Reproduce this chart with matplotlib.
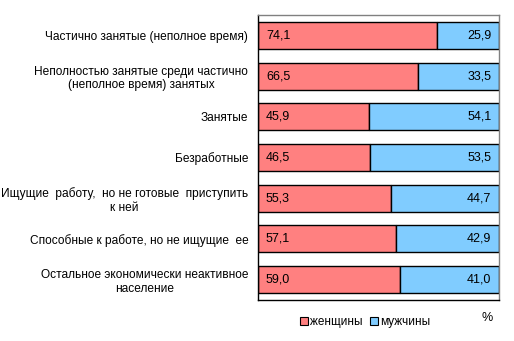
import matplotlib
matplotlib.use("Agg")
import matplotlib.pyplot as plt
from matplotlib.patches import Patch

plt.rcParams['font.family'] = ['Liberation Sans', 'DejaVu Sans']

categories = [
    "Частично занятые (неполное время)",
    "Неполностью занятые среди частично\n(неполное время) занятых",
    "Занятые",
    "Безработные",
    "Ищущие  работу,  но не готовые  приступить\nк ней",
    "Способные к работе, но не ищущие  ее",
    "Остальное экономически неактивное\nнаселение",
]
women = [74.1, 66.5, 45.9, 46.5, 55.3, 57.1, 59.0]
men = [25.9, 33.5, 54.1, 53.5, 44.7, 42.9, 41.0]
series_names = ["женщины", "мужчины"]

c_women = "#FF8080"
c_men = "#80CCFF"

fig = plt.figure(figsize=(5.14, 3.41), dpi=100)
ax = fig.add_axes([258 / 514, 1 - 300 / 341, (499 - 258) / 514, (300 - 15) / 341])

y = list(range(len(categories)))
h = 0.66
ax.barh(y, women, height=h, color=c_women, edgecolor="black", linewidth=1.0)
ax.barh(y, men, left=women, height=h, color=c_men, edgecolor="black", linewidth=1.0)

for yi, w, m in zip(y, women, men):
    ax.text(3.3, yi, f"{w:.1f}".replace(".", ","), va="center", ha="left", fontsize=9)
    ax.text(96.8, yi, f"{m:.1f}".replace(".", ","), va="center", ha="right", fontsize=9)

ax.set_xlim(0, 100)
ax.set_ylim(len(categories) - 0.5, -0.5)
ax.set_yticks(y)
ax.set_yticklabels(categories, fontsize=8.6, multialignment="center")
ax.tick_params(axis="y", length=0, pad=7)
ax.tick_params(axis="x", bottom=False, labelbottom=False)

for s in ["left", "bottom"]:
    ax.spines[s].set_color("black")
    ax.spines[s].set_linewidth(1.0)
for s in ["top", "right"]:
    ax.spines[s].set_color("#808080")
    ax.spines[s].set_linewidth(1.0)

handles = [Patch(facecolor=c_women, edgecolor="black", linewidth=0.8),
           Patch(facecolor=c_men, edgecolor="black", linewidth=0.8)]
fig.legend(handles, series_names, loc="center", bbox_to_anchor=(365 / 514, 1 - 322 / 341),
           ncol=2, frameon=False, fontsize=8.5, handlelength=0.7, handleheight=0.7,
           handletextpad=0.2, columnspacing=0.6)
fig.text(487 / 514, 1 - 318 / 341, "%", ha="center", va="center", fontsize=9)

fig.savefig("out.png", dpi=100)
